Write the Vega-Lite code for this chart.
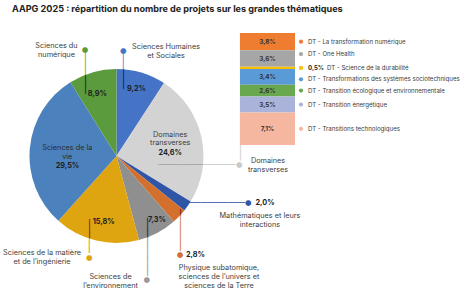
{
  "$schema": "https://vega.github.io/schema/vega-lite/v6.json",
  "background": "white",
  "padding": {"left": 0, "top": 5, "right": 0, "bottom": 0},
  "autosize": {"type": "pad"},
  "title": {"text": "AAPG 2025 : répartition du nombre de projets sur les grandes thématiques", "anchor": "start", "font": "Inter", "fontSize": 9.1, "fontWeight": 700, "color": "#222222", "dx": 12, "offset": 3.6},
  "config": {"view": {"stroke": null}, "font": "Inter"},
  "resolve": {"scale": {"color": "independent"}},
  "datasets": {
    "thematiques": [
      {"rang": 1, "cat": "Sciences Humaines et Sociales", "nom": "Sciences Humaines\net Sociales", "part": 9.2, "pct": "9,2%"},
      {"rang": 2, "cat": "Domaines transverses", "nom": "Domaines\ntransverses", "part": 24.6, "pct": "24,6%"},
      {"rang": 3, "cat": "Mathématiques et leurs interactions", "nom": "Mathématiques et leurs\ninteractions", "part": 2.0, "pct": "2,0%"},
      {"rang": 4, "cat": "Physique subatomique, sciences de l’univers et sciences de la Terre", "nom": "Physique subatomique,\nsciences de l’univers et\nsciences de la Terre", "part": 2.8, "pct": "2,8%"},
      {"rang": 5, "cat": "Sciences de l’environnement", "nom": "Sciences de\nl’environnement", "part": 7.3, "pct": "7,3%"},
      {"rang": 6, "cat": "Sciences de la matière et de l’ingénierie", "nom": "Sciences de la matière\net de l’ingénierie", "part": 15.8, "pct": "15,8%"},
      {"rang": 7, "cat": "Sciences de la vie", "nom": "Sciences de la\nvie", "part": 29.5, "pct": "29,5%"},
      {"rang": 8, "cat": "Sciences du numérique", "nom": "Sciences du\nnumérique", "part": 8.9, "pct": "8,9%"}
    ],
    "transverses": [
      {"rang": 1, "groupe": "Domaines transverses", "theme": "DT - La transformation numérique", "part": 3.8, "pct": "3,8%"},
      {"rang": 2, "groupe": "Domaines transverses", "theme": "DT - One Health", "part": 3.6, "pct": "3,6%"},
      {"rang": 3, "groupe": "Domaines transverses", "theme": "DT - Science de la durabilité", "part": 0.5, "pct": "0,5%"},
      {"rang": 4, "groupe": "Domaines transverses", "theme": "DT - Transformations des systèmes sociotechniques", "part": 3.4, "pct": "3,4%"},
      {"rang": 5, "groupe": "Domaines transverses", "theme": "DT - Transition écologique et environnementale", "part": 2.6, "pct": "2,6%"},
      {"rang": 6, "groupe": "Domaines transverses", "theme": "DT - Transition énergétique", "part": 3.5, "pct": "3,5%"},
      {"rang": 7, "groupe": "Domaines transverses", "theme": "DT - Transitions technologiques", "part": 7.1, "pct": "7,1%"}
    ]
  },
  "bounds": "flush",
  "spacing": 7,
  "hconcat": [
    {
      "width": 233,
      "height": 276,
      "data": {"name": "thematiques"},
      "layer": [
        {"mark": {"type": "arc", "outerRadius": 87},
         "encoding": {
           "theta": {"field": "part", "type": "quantitative", "stack": true},
           "order": {"field": "rang", "type": "quantitative"},
           "color": {"field": "cat", "type": "nominal", "legend": null,
             "scale": {"domain": ["Sciences Humaines et Sociales", "Domaines transverses", "Mathématiques et leurs interactions", "Physique subatomique, sciences de l’univers et sciences de la Terre", "Sciences de l’environnement", "Sciences de la matière et de l’ingénierie", "Sciences de la vie", "Sciences du numérique"],
                       "range": ["#4573c6", "#d3d3d3", "#2f56a6", "#d4702e", "#8f8f8f", "#dea511", "#4b82bd", "#5b9a3d"]}}}},
        {
          "transform": [
            {"stack": "part", "groupby": [], "sort": [{"field": "rang", "order": "ascending"}], "as": ["debut", "fin"]},
            {"fold": ["debut", "fin"], "as": ["borne", "position"]},
            {"aggregate": [{"op": "mean", "field": "position", "as": "milieu"}], "groupby": ["rang", "cat", "nom", "pct", "part"]}
          ],
          "encoding": {
            "theta": {"field": "milieu", "type": "quantitative", "stack": null}
          },
          "layer": [
            {"transform": [{"filter": "datum.rang === 8"}],
             "mark": {"type": "text", "font": "DejaVu Sans", "fontSize": 9.14, "angle": 90, "align": "center", "baseline": "middle", "radius": 110, "dx": 13.7, "dy": 1.2, "color": "#5b9a3d", "text": "────"}},
            {"transform": [{"filter": "datum.rang === 8"}],
             "mark": {"type": "text", "font": "DejaVu Sans", "fontSize": 10.5, "angle": 90, "align": "center", "baseline": "middle", "radius": 110, "dx": 34.2, "dy": 1.2, "color": "#1d2b14", "text": "───"}},
            {"transform": [{"filter": "datum.rang === 1"}],
             "mark": {"type": "text", "font": "DejaVu Sans", "fontSize": 8.75, "angle": 90, "align": "center", "baseline": "middle", "radius": 110, "dx": 10.8, "dy": 24.5, "color": "#4573c6", "text": "───"}},
            {"transform": [{"filter": "datum.rang === 1"}],
             "mark": {"type": "text", "font": "DejaVu Sans", "fontSize": 10.9, "angle": 90, "align": "center", "baseline": "middle", "radius": 110, "dx": 28.6, "dy": 24.5, "color": "#16245e", "text": "───"}},
            {"transform": [{"filter": "datum.rang === 6"}],
             "mark": {"type": "text", "font": "DejaVu Sans", "fontSize": 10.85, "angle": 90, "align": "center", "baseline": "middle", "radius": 105, "dx": -29.3, "dy": 2.7, "color": "#8a1f12", "text": "───"}},
            {"transform": [{"filter": "datum.rang === 6"}],
             "mark": {"type": "text", "font": "DejaVu Sans", "fontSize": 11.96, "angle": 90, "align": "center", "baseline": "middle", "radius": 105, "dx": -12.3, "dy": 2.7, "color": "#dea511", "text": "──"}},
            {"transform": [{"filter": "datum.rang === 5"}],
             "mark": {"type": "text", "font": "DejaVu Sans", "fontSize": 11, "angle": 90, "align": "center", "baseline": "middle", "radius": 130, "dx": -43, "dy": 30.9, "color": "#2a2a2a", "text": "───"}},
            {"transform": [{"filter": "datum.rang === 5"}],
             "mark": {"type": "text", "font": "DejaVu Sans", "fontSize": 10.63, "angle": 90, "align": "center", "baseline": "middle", "radius": 130, "dx": -13.9, "dy": 30.9, "color": "#9a9a9a", "text": "──────"}},
            {"transform": [{"filter": "datum.rang === 4"}],
             "mark": {"type": "text", "font": "DejaVu Sans", "fontSize": 10.8, "angle": 90, "align": "center", "baseline": "middle", "radius": 87, "dx": -3.9, "dy": -0.7, "color": "#7a1c10", "text": "─"}},
            {"transform": [{"filter": "datum.rang === 4"}],
             "mark": {"type": "text", "font": "DejaVu Sans", "fontSize": 9.83, "angle": 90, "align": "center", "baseline": "middle", "radius": 87, "dx": 17.05, "dy": -0.7, "color": "#d4702e", "text": "──────"}},
            {"transform": [{"filter": "datum.rang === 3"}],
             "mark": {"type": "text", "font": "DejaVu Sans", "fontSize": 9.22, "align": "center", "baseline": "middle", "radius": 87, "dx": 29.65, "dy": -2.8, "color": "#3355aa", "text": "──────────"}},
            {"transform": [{"filter": "datum.rang === 2"}],
             "mark": {"type": "text", "font": "DejaVu Sans", "fontSize": 10.7, "align": "center", "baseline": "middle", "radius": 125, "dx": -57.95, "dy": 36.4, "color": "#a9a9a9", "text": "───────"}},
            {"transform": [{"filter": "datum.rang === 2"}],
             "mark": {"type": "text", "font": "DejaVu Sans", "fontSize": 10.8, "align": "center", "baseline": "middle", "radius": 125, "dx": -19.2, "dy": 36.4, "color": "#cdcdcd", "text": "─────"}},
            {"transform": [{"filter": "datum.rang === 2"}],
             "mark": {"type": "text", "font": "DejaVu Sans", "fontSize": 10.0, "angle": 90, "align": "center", "baseline": "middle", "radius": 125, "dx": -31.35, "dy": -1.05, "color": "#cdcdcd", "text": "─────────────────────"}},

            {"transform": [{"filter": "datum.rang === 8"}],
             "mark": {"type": "text", "font": "DejaVu Sans", "fontSize": 7.5, "align": "center", "baseline": "middle", "radius": 110, "dx": -1.2, "dy": -0.3, "color": "#5b9a3d", "text": "●"}},
            {"transform": [{"filter": "datum.rang === 1"}],
             "mark": {"type": "text", "font": "DejaVu Sans", "fontSize": 7.5, "align": "center", "baseline": "middle", "radius": 110, "dx": -24.5, "dy": 0.4, "color": "#4573c6", "text": "●"}},
            {"transform": [{"filter": "datum.rang === 6"}],
             "mark": {"type": "text", "font": "DejaVu Sans", "fontSize": 7.5, "align": "center", "baseline": "middle", "radius": 105, "dx": -2.7, "dy": -0.4, "color": "#dea511", "text": "●"}},
            {"transform": [{"filter": "datum.rang === 5"}],
             "mark": {"type": "text", "font": "DejaVu Sans", "fontSize": 7.5, "align": "center", "baseline": "middle", "radius": 130, "dx": -30.9, "dy": 9.6, "color": "#999999", "text": "●"}},
            {"transform": [{"filter": "datum.rang === 4"}],
             "mark": {"type": "text", "font": "DejaVu Sans", "fontSize": 7.5, "align": "center", "baseline": "middle", "radius": 87, "dx": 0.7, "dy": 38.8, "color": "#d4702e", "text": "●"}},
            {"transform": [{"filter": "datum.rang === 3"}],
             "mark": {"type": "text", "font": "DejaVu Sans", "fontSize": 7.5, "align": "center", "baseline": "middle", "radius": 87, "dx": 60.7, "dy": -2.8, "color": "#2f56a6", "text": "●"}},
            {"transform": [{"filter": "datum.rang === 2"}],
             "mark": {"type": "text", "font": "DejaVu Sans", "fontSize": 7.5, "align": "center", "baseline": "middle", "radius": 125, "dx": 0.85, "dy": 36.4, "color": "#c9c9c9", "text": "●"}},

            {"transform": [{"filter": "datum.rang === 8"}],
             "mark": {"type": "text", "font": "Inter", "fontSize": 7.3, "color": "#3d3d3d", "lineBreak": "\n", "lineHeight": 8.8, "align": "center", "baseline": "middle", "radius": 110, "dx": -29.7, "dy": -4.2},
             "encoding": {"text": {"field": "nom"}}},
            {"transform": [{"filter": "datum.rang === 1"}],
             "mark": {"type": "text", "font": "Inter", "fontSize": 7.3, "color": "#3d3d3d", "lineBreak": "\n", "lineHeight": 8.8, "align": "center", "baseline": "middle", "radius": 110, "dx": 18.2, "dy": -3.8},
             "encoding": {"text": {"field": "nom"}}},
            {"transform": [{"filter": "datum.rang === 2"}],
             "mark": {"type": "text", "font": "Inter", "fontSize": 7.3, "color": "#3d3d3d", "lineBreak": "\n", "lineHeight": 8.8, "align": "center", "baseline": "middle", "radius": 55, "dx": 0, "dy": -9.3},
             "encoding": {"text": {"field": "nom"}}},
            {"transform": [{"filter": "datum.rang === 7"}],
             "mark": {"type": "text", "font": "Inter", "fontSize": 7.3, "color": "#2b2b2b", "lineBreak": "\n", "lineHeight": 8.8, "align": "center", "baseline": "middle", "radius": 50, "dx": 0.6, "dy": -3.6},
             "encoding": {"text": {"field": "nom"}}},
            {"transform": [{"filter": "datum.rang === 6"}],
             "mark": {"type": "text", "font": "Inter", "fontSize": 7.3, "color": "#3d3d3d", "lineBreak": "\n", "lineHeight": 8.8, "align": "center", "baseline": "middle", "radius": 105, "dx": -50, "dy": -4.8},
             "encoding": {"text": {"field": "nom"}}},
            {"transform": [{"filter": "datum.rang === 5"}],
             "mark": {"type": "text", "font": "Inter", "fontSize": 7.3, "color": "#3d3d3d", "lineBreak": "\n", "lineHeight": 8.8, "align": "center", "baseline": "middle", "radius": 130, "dx": -67.1, "dy": 6.4},
             "encoding": {"text": {"field": "nom"}}},
            {"transform": [{"filter": "datum.rang === 4"}],
             "mark": {"type": "text", "font": "Inter", "fontSize": 7.3, "color": "#3d3d3d", "lineBreak": "\n", "lineHeight": 8.8, "align": "center", "baseline": "middle", "radius": 140, "dx": 1.4, "dy": 15.3},
             "encoding": {"text": {"field": "nom"}}},
            {"transform": [{"filter": "datum.rang === 3"}],
             "mark": {"type": "text", "font": "Inter", "fontSize": 7.3, "color": "#3d3d3d", "lineBreak": "\n", "lineHeight": 8.8, "align": "center", "baseline": "middle", "radius": 150, "dx": 20.8, "dy": -26.3},
             "encoding": {"text": {"field": "nom"}}},
            {"transform": [{"filter": "datum.rang === 2"}],
             "mark": {"type": "text", "font": "Inter", "fontSize": 7.3, "color": "#3d3d3d", "lineBreak": "\n", "lineHeight": 8.8, "align": "center", "baseline": "middle", "radius": 150, "dx": 5.2, "dy": 37.7},
             "encoding": {"text": {"field": "nom"}}},

            {"transform": [{"filter": "datum.rang === 1"}],
             "mark": {"type": "text", "font": "Inter", "fontSize": 7.3, "fontWeight": 700, "color": "#1f1f1f", "align": "center", "baseline": "middle", "radius": 70, "dx": 0, "dy": 0},
             "encoding": {"text": {"field": "pct"}}},
            {"transform": [{"filter": "datum.rang === 8"}],
             "mark": {"type": "text", "font": "Inter", "fontSize": 7.3, "fontWeight": 700, "color": "#1f1f1f", "align": "center", "baseline": "middle", "radius": 66, "dx": -1, "dy": 1},
             "encoding": {"text": {"field": "pct"}}},
            {"transform": [{"filter": "datum.rang === 2"}],
             "mark": {"type": "text", "font": "Inter", "fontSize": 7.3, "fontWeight": 700, "color": "#1f1f1f", "align": "center", "baseline": "middle", "radius": 55, "dx": 0, "dy": 9},
             "encoding": {"text": {"field": "pct"}}},
            {"transform": [{"filter": "datum.rang === 7"}],
             "mark": {"type": "text", "font": "Inter", "fontSize": 7.3, "fontWeight": 700, "color": "#1f1f1f", "align": "center", "baseline": "middle", "radius": 50, "dx": 0.8, "dy": 14.3},
             "encoding": {"text": {"field": "pct"}}},
            {"transform": [{"filter": "datum.rang === 6"}],
             "mark": {"type": "text", "font": "Inter", "fontSize": 7.3, "fontWeight": 700, "color": "#1f1f1f", "align": "center", "baseline": "middle", "radius": 67, "dx": 2.8, "dy": 0.5},
             "encoding": {"text": {"field": "pct"}}},
            {"transform": [{"filter": "datum.rang === 5"}],
             "mark": {"type": "text", "font": "Inter", "fontSize": 7.3, "fontWeight": 700, "color": "#1f1f1f", "align": "center", "baseline": "middle", "radius": 72, "dx": 6.6, "dy": 0.8},
             "encoding": {"text": {"field": "pct"}}},
            {"transform": [{"filter": "datum.rang === 4"}],
             "mark": {"type": "text", "font": "Inter", "fontSize": 7.3, "fontWeight": 700, "color": "#1f1f1f", "align": "center", "baseline": "middle", "radius": 87, "dx": 16.2, "dy": 38.8},
             "encoding": {"text": {"field": "pct"}}},
            {"transform": [{"filter": "datum.rang === 3"}],
             "mark": {"type": "text", "font": "Inter", "fontSize": 7.3, "fontWeight": 700, "color": "#1f1f1f", "align": "center", "baseline": "middle", "radius": 87, "dx": 77.4, "dy": -3.1},
             "encoding": {"text": {"field": "pct"}}}
          ]
        }
      ]
    },
    {
      "width": 55,
      "height": 276,
      "data": {"name": "transverses"},
      "encoding": {
        "x": {"field": "groupe", "type": "nominal", "axis": null, "scale": {"paddingInner": 0, "paddingOuter": 0}}
      },
      "layer": [
        {"mark": {"type": "bar"},
         "encoding": {
           "y": {"field": "part", "type": "quantitative", "stack": "zero", "axis": null, "scale": {"range": [15, 127], "nice": false, "zero": true}},
           "order": {"field": "rang", "type": "quantitative"},
           "color": {"field": "theme", "type": "nominal", "legend": null,
             "scale": {"domain": ["DT - La transformation numérique", "DT - One Health", "DT - Science de la durabilité", "DT - Transformations des systèmes sociotechniques", "DT - Transition écologique et environnementale", "DT - Transition énergétique", "DT - Transitions technologiques"],
                       "range": ["#ee7d31", "#a6a6a6", "#f8c000", "#5a9ad6", "#6aa84f", "#aab4db", "#f5b7a0"]}}
         }},
        {
          "transform": [
            {"stack": "part", "groupby": ["groupe"], "sort": [{"field": "rang", "order": "ascending"}], "as": ["debut", "fin"]},
            {"fold": ["debut", "fin"], "as": ["borne", "position"]},
            {"aggregate": [{"op": "mean", "field": "position", "as": "milieu"}], "groupby": ["rang", "groupe", "theme", "part", "pct"]}
          ],
          "encoding": {
            "y": {"field": "milieu", "type": "quantitative", "stack": null}
          },
          "layer": [
            {"transform": [{"filter": "datum.rang !== 3"}],
             "mark": {"type": "text", "font": "Inter", "fontSize": 6.3, "fontWeight": 700, "color": "#333333", "align": "center", "baseline": "middle"},
             "encoding": {"text": {"field": "pct"}}},
            {"transform": [{"filter": "datum.rang === 1 || datum.rang === 3 || datum.rang >= 5"}],
             "mark": {"type": "point", "filled": true, "opacity": 1, "size": 18, "xOffset": 33.5},
             "encoding": {"color": {"field": "theme", "type": "nominal", "legend": null}}},
            {"transform": [{"filter": "datum.rang === 2"}],
             "mark": {"type": "point", "filled": true, "opacity": 1, "size": 18, "xOffset": 33.5, "yOffset": -4.5},
             "encoding": {"color": {"field": "theme", "type": "nominal", "legend": null}}},
            {"transform": [{"filter": "datum.rang === 4"}],
             "mark": {"type": "point", "filled": true, "opacity": 1, "size": 18, "xOffset": 33.5, "yOffset": 2.4},
             "encoding": {"color": {"field": "theme", "type": "nominal", "legend": null}}},
            {"transform": [{"filter": "datum.rang === 1 || datum.rang >= 5"}],
             "mark": {"type": "text", "font": "Inter", "fontSize": 6.1, "color": "#3a3a3a", "align": "left", "baseline": "middle", "dx": 40.5},
             "encoding": {"text": {"field": "theme"}}},
            {"transform": [{"filter": "datum.rang === 2"}],
             "mark": {"type": "text", "font": "Inter", "fontSize": 6.1, "color": "#3a3a3a", "align": "left", "baseline": "middle", "dx": 40.5, "dy": -4.5},
             "encoding": {"text": {"field": "theme"}}},
            {"transform": [{"filter": "datum.rang === 4"}],
             "mark": {"type": "text", "font": "Inter", "fontSize": 6.1, "color": "#3a3a3a", "align": "left", "baseline": "middle", "dx": 40.5, "dy": 2.4},
             "encoding": {"text": {"field": "theme"}}},
            {"transform": [{"filter": "datum.rang === 3"}],
             "mark": {"type": "text", "font": "Inter", "fontSize": 6.1, "fontWeight": 700, "color": "#1f1f1f", "align": "left", "baseline": "middle", "dx": 40.5},
             "encoding": {"text": {"field": "pct"}}},
            {"transform": [{"filter": "datum.rang === 3"}],
             "mark": {"type": "text", "font": "Inter", "fontSize": 6.1, "color": "#3a3a3a", "align": "left", "baseline": "middle", "dx": 59.5},
             "encoding": {"text": {"field": "theme"}}}
          ]
        }
      ]
    }
  ]
}
